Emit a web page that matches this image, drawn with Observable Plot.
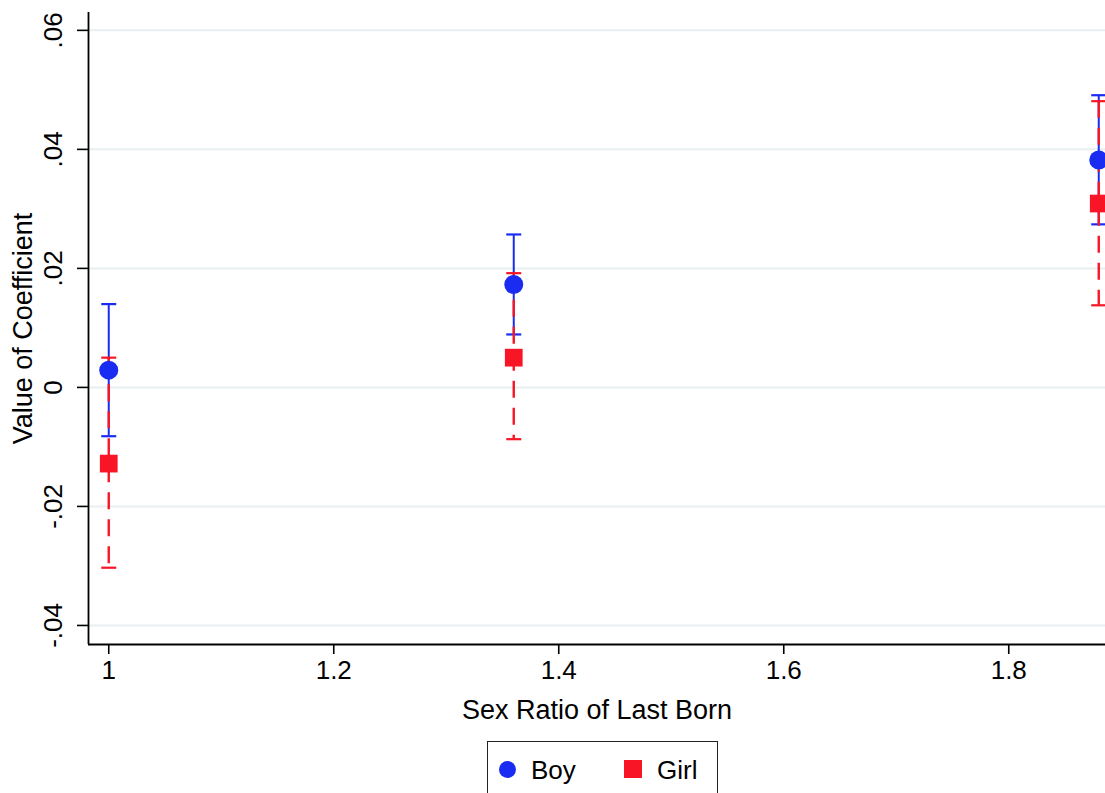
<!DOCTYPE html>
<html>
<head>
<meta charset="utf-8">
<script src="https://cdn.jsdelivr.net/npm/d3@7"></script>
<script src="https://cdn.jsdelivr.net/npm/@observablehq/plot@0.6"></script>
<style>
  html, body { margin: 0; padding: 0; background: #fff; overflow: hidden; }
  body { width: 1105px; height: 793px; position: relative; font-family: "Liberation Sans", Arial, Helvetica, sans-serif; }
  #chart { position: absolute; left: 0; top: 0; }
  #legend { position: absolute; left: 487px; top: 741px; width: 231px; height: 70px; border: 1.5px solid #222; box-sizing: border-box; }
  .item { position: absolute; top: 13px; font-size: 26px; color: #000; line-height: 30px; }
  .sw { position: absolute; }
</style>
</head>
<body>
<div id="chart"></div>
<div id="legend">
  <span class="sw" style="left:11px;top:19px;width:17px;height:17px;border-radius:50%;background:#1a2cf2;"></span>
  <span class="item" style="left:43px;">Boy</span>
  <span class="sw" style="left:136px;top:18px;width:18px;height:18px;background:#f71526;"></span>
  <span class="item" style="left:169px;">Girl</span>
</div>
<script>
// Data
const sexRatio  = [1, 1.36, 1.88];
const boyCoef   = [0.0029, 0.0173, 0.0382];
const boyLo     = [-0.0082, 0.0089, 0.0274];
const boyHi     = [0.0140, 0.0257, 0.0491];
const girlCoef  = [-0.0128, 0.0050, 0.0309];
const girlLo    = [-0.0303, -0.0087, 0.0138];
const girlHi    = [0.0050, 0.0192, 0.0481];
const yTicks    = [-0.04, -0.02, 0, 0.02, 0.04, 0.06];
const xTicks    = [1, 1.2, 1.4, 1.6, 1.8];

const BLUE = "#1a2cf2";
const RED = "#f71526";

const boy = sexRatio.map((x, i) => ({x, coef: boyCoef[i], lo: boyLo[i], hi: boyHi[i]}));
const girl = sexRatio.map((x, i) => ({x, coef: girlCoef[i], lo: girlLo[i], hi: girlHi[i]}));

const xDomain = [0.982, 1.886];
const yDomain = [-0.0432, 0.063];

const cap = { draw(ctx) { ctx.moveTo(-7.5, 0); ctx.lineTo(7.5, 0); } };

const yFmt = d => d === 0 ? "0" : d.toFixed(2).replace("0.", ".");
const xFmt = d3.format("~g");

const chart = Plot.plot({
  width: 1105,
  height: 730,
  marginLeft: 88,
  marginRight: 0,
  marginTop: 12,
  marginBottom: 86,
  style: { fontFamily: "'Liberation Sans', Arial, Helvetica, sans-serif", fontSize: "26px", color: "#000", background: "#fff", overflow: "visible" },
  x: { domain: xDomain },
  y: { domain: yDomain },
  marks: [
    Plot.gridY(yTicks, { stroke: "#e7eff1", strokeOpacity: 1, strokeWidth: 2 }),
    Plot.axisY(yTicks, {
      tickFormat: yFmt, tickSize: 11, tickPadding: 16, tickRotate: -90,
      strokeWidth: 1.6, fontSize: 26,
      label: null
    }),
    Plot.axisY({
      ticks: [], tickSize: 0,
      label: "Value of Coefficient", labelAnchor: "center", labelOffset: 76, labelArrow: "none", fontSize: 27
    }),
    Plot.axisX(xTicks, {
      tickFormat: xFmt, tickSize: 10, tickPadding: 6, strokeWidth: 1.6, fontSize: 26,
      label: null
    }),
    Plot.axisX({
      ticks: [], tickSize: 0,
      label: "Sex Ratio of Last Born", labelAnchor: "center", labelOffset: 74, labelArrow: "none", fontSize: 27
    }),
    Plot.ruleX([xDomain[0]], { stroke: "#000", strokeWidth: 1.8 }),
    Plot.ruleY([yDomain[0]], { stroke: "#000", strokeWidth: 1.8 }),
    // Boy error bars (solid blue)
    Plot.ruleX(boy, { x: "x", y1: "lo", y2: "hi", stroke: BLUE, strokeWidth: 2 }),
    Plot.dot(boy, { x: "x", y: "lo", symbol: cap, stroke: BLUE, strokeWidth: 2.2 }),
    Plot.dot(boy, { x: "x", y: "hi", symbol: cap, stroke: BLUE, strokeWidth: 2.2 }),
    // Girl error bars (dashed red)
    Plot.ruleX(girl, { x: "x", y1: "hi", y2: "lo", stroke: RED, strokeWidth: 2.4, strokeDasharray: "17,10" }),
    Plot.dot(girl, { x: "x", y: "lo", symbol: cap, stroke: RED, strokeWidth: 2.2 }),
    Plot.dot(girl, { x: "x", y: "hi", symbol: cap, stroke: RED, strokeWidth: 2.2 }),
    // Point estimates
    Plot.dot(boy, { x: "x", y: "coef", r: 9.5, fill: BLUE, stroke: "none" }),
    Plot.dot(girl, { x: "x", y: "coef", r: 10, symbol: "square", fill: RED, stroke: "none" })
  ]
});
document.getElementById("chart").appendChild(chart);
</script>
</body>
</html>
